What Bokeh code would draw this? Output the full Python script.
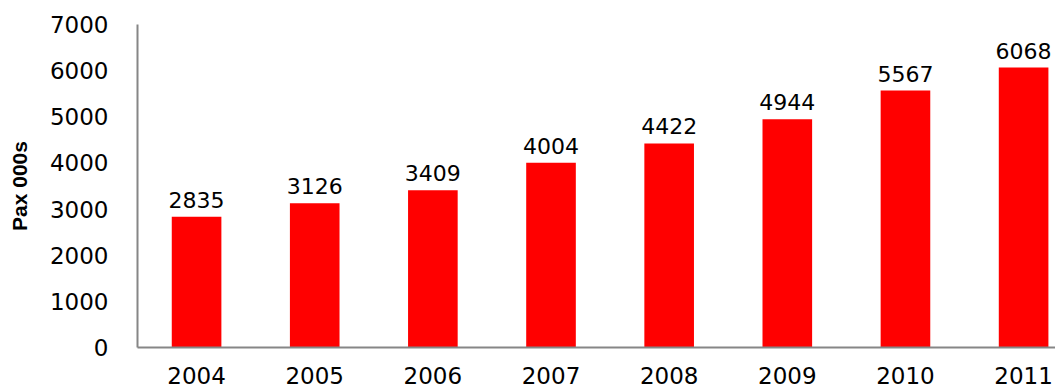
from bokeh.plotting import figure
from bokeh.models import Range1d, FixedTicker, ColumnDataSource
from bokeh.embed import file_html
from bokeh.resources import INLINE
from bokeh.core.properties import value

years = ["2004", "2005", "2006", "2007", "2008", "2009", "2010", "2011"]
pax = [2835, 3126, 3409, 4004, 4422, 4944, 5567, 6068]
y_ticks = [0, 1000, 2000, 3000, 4000, 5000, 6000, 7000]

idx = list(range(len(years)))
src = ColumnDataSource(dict(x=idx, top=pax, label=[str(v) for v in pax]))

p = figure(width=1055, height=392, output_backend="svg", toolbar_location=None,
           x_range=Range1d(-0.5, 7.27), y_range=Range1d(0, 7000),
           min_border_left=137, min_border_right=0, min_border_top=24, min_border_bottom=45)
p.outline_line_color = None
p.background_fill_color = "white"
p.border_fill_color = "white"
p.xgrid.visible = False
p.ygrid.visible = False

p.vbar(x="x", top="top", width=0.42, bottom=0, source=src, fill_color="#FF0000", line_color=None)
p.text(x="x", y="top", text="label", source=src, text_align="center", text_baseline="alphabetic",
       y_offset=-17, text_font=value("DejaVu Sans"), text_font_size="22px", text_color="black")

lab_font = "DejaVu Sans"
p.xaxis.ticker = FixedTicker(ticks=idx)
p.xaxis.major_label_overrides = {i: y for i, y in zip(idx, years)}
p.xaxis.major_tick_line_color = None
p.xaxis.minor_tick_line_color = None
p.xaxis.major_tick_out = 0
p.xaxis.major_label_standoff = 19
p.xaxis.major_label_text_font = lab_font
p.xaxis.major_label_text_font_size = "23px"
p.xaxis.major_label_text_color = "black"
p.xaxis.axis_line_color = "#868686"
p.xaxis.axis_line_width = 2

p.yaxis.ticker = FixedTicker(ticks=y_ticks)
p.yaxis.major_tick_line_color = None
p.yaxis.minor_tick_line_color = None
p.yaxis.major_tick_out = 0
p.yaxis.major_label_standoff = 29
p.yaxis.major_label_text_font = lab_font
p.yaxis.major_label_text_font_size = "23px"
p.yaxis.major_label_text_color = "black"
p.yaxis.axis_line_color = "#868686"
p.yaxis.axis_line_width = 2
p.yaxis.axis_label = "Pax 000s"
p.yaxis.axis_label_text_font = "Liberation Sans"
p.yaxis.axis_label_text_font_style = "bold"
p.yaxis.axis_label_text_font_size = "21px"
p.yaxis.axis_label_text_color = "black"
p.yaxis.axis_label_standoff = 16

open("out.html", "w").write(file_html(p, INLINE))
